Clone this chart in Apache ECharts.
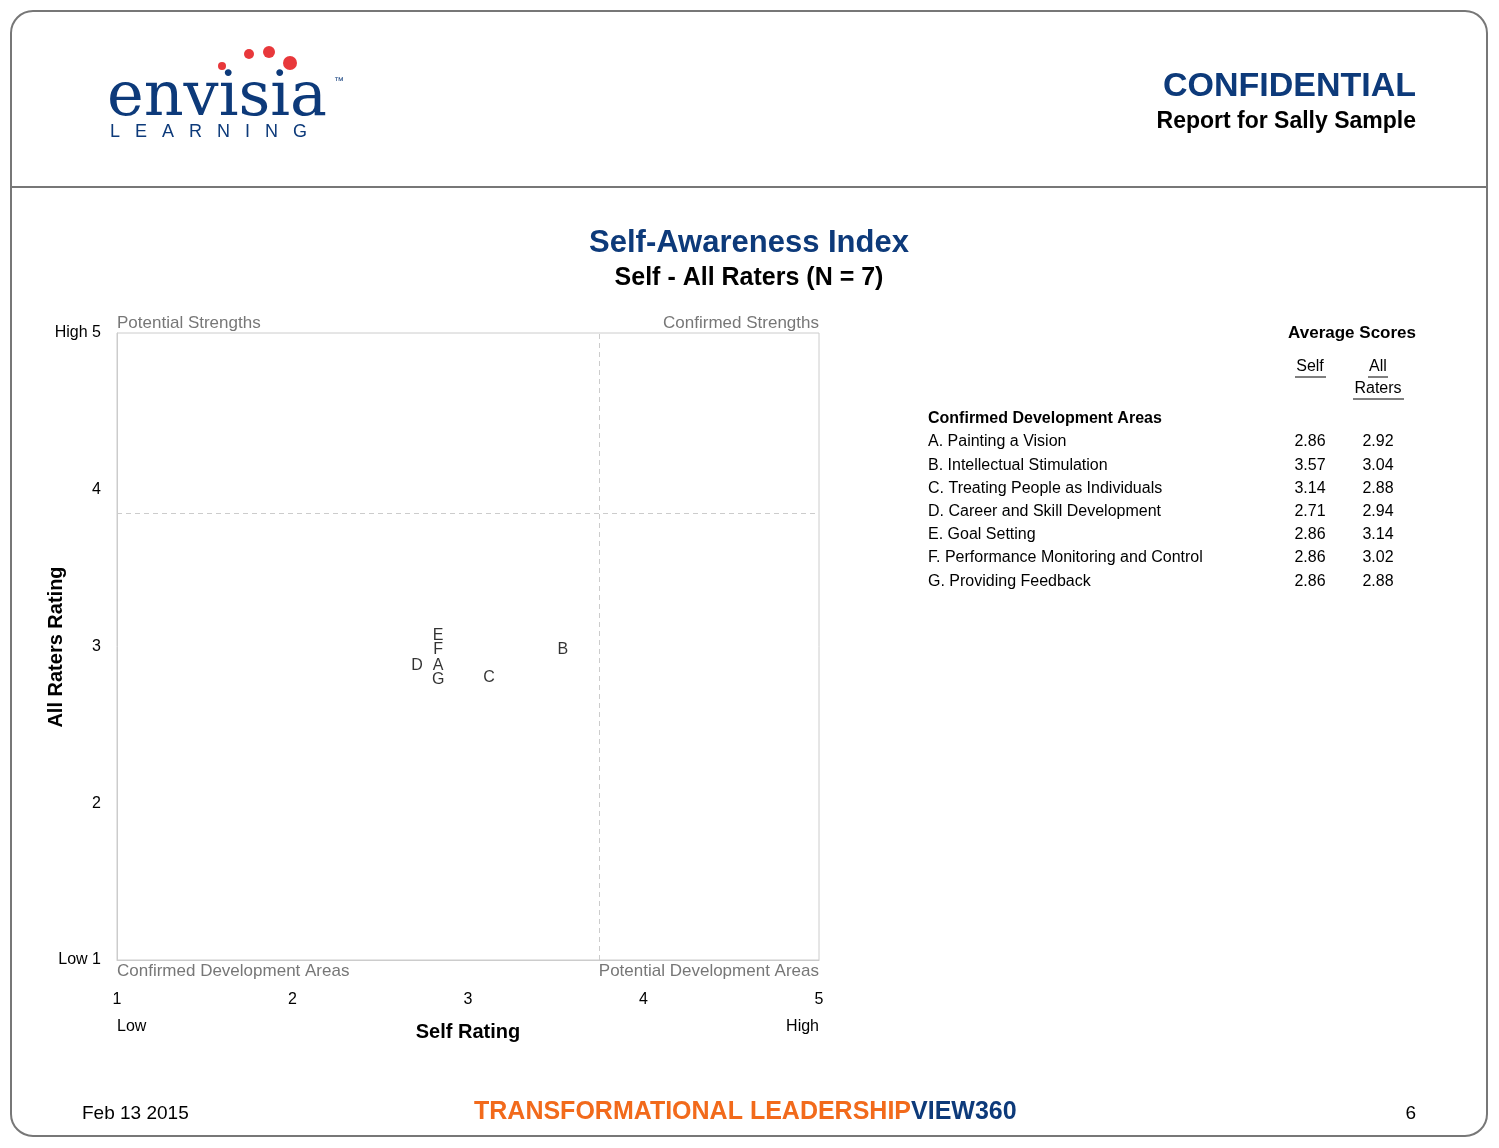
<html>
<head>
<meta charset="utf-8">
<title>Self-Awareness Index</title>
<script src="https://cdn.jsdelivr.net/npm/echarts@6/dist/echarts.min.js"></script>
<style>
  body { margin:0; background:#fff; }
  #main { width:1499px; height:1148px; }
</style>
</head>
<body>
<div id="main"></div>
<script>
var labels = ['A', 'B', 'C', 'D', 'E', 'F', 'G'];
var names = ['A. Painting a Vision', 'B. Intellectual Stimulation', 'C. Treating People as Individuals',
  'D. Career and Skill Development', 'E. Goal Setting', 'F. Performance Monitoring and Control', 'G. Providing Feedback'];
var selfScores = [2.86, 3.57, 3.14, 2.71, 2.86, 2.86, 2.86];
var raterScores = [2.92, 3.04, 2.88, 2.94, 3.14, 3.02, 2.88];
// small nudges so stacked letters stay readable, as in the report
var plotSelf = [2.83, 3.54, 3.12, 2.71, 2.83, 2.83, 2.83];
var plotRaters = [2.88, 2.98, 2.80, 2.88, 3.07, 2.98, 2.79];
var xTicks = { 1: '1', 2: '2', 3: '3', 4: '4', 5: '5' };
var yTicks = { 1: 'Low 1', 2: '2', 3: '3', 4: '4', 5: 'High 5' };
var selfCut = 3.75, raterCut = 3.85;

var myChart = echarts.init(document.getElementById('main'));
var font = 'Arial, "Liberation Sans", sans-serif';

var pts = [];
for (var i = 0; i < labels.length; i++) {
  pts.push({ value: [plotSelf[i], plotRaters[i]], name: labels[i] });
}

function txt(x, y, s, fill, f, align) {
  return { type: 'text', x: x, y: y, style: { text: s, fill: fill, font: f, align: align || 'left', verticalAlign: 'top' } };
}

var g = [];
// frame
g.push({ type: 'rect', shape: { x: 11, y: 11, width: 1476, height: 1125, r: 22 },
  style: { fill: 'none', stroke: '#777', lineWidth: 2 } });
g.push({ type: 'line', shape: { x1: 11, y1: 187, x2: 1487, y2: 187 }, style: { stroke: '#777', lineWidth: 2 } });
// logo
g.push(txt(107, 68, 'envisia', '#0d3a7a', '62px "DejaVu Serif", serif'));
g.push(txt(334, 76, '™', '#0d3a7a', '10px sans-serif'));
g.push(txt(110, 123, 'L   E   A   R   N   I   N   G', '#0d3a7a', '18px ' + font));
[[222, 66, 4], [249, 54, 5], [269, 52, 6], [290, 63, 7]].forEach(function (d) {
  g.push({ type: 'circle', shape: { cx: d[0], cy: d[1], r: d[2] }, style: { fill: '#e8383b' } });
});
// header right
g.push(txt(1416, 70, 'CONFIDENTIAL', '#0d3a7a', 'bold 34px ' + font, 'right'));
g.push(txt(1416, 110, 'Report for Sally Sample', '#000', 'bold 23px ' + font, 'right'));
// titles
g.push(txt(749, 228, 'Self-Awareness Index', '#0d3a7a', 'bold 31px ' + font, 'center'));
g.push(txt(749, 266, 'Self - All Raters (N = 7)', '#000', 'bold 25px ' + font, 'center'));
// y axis title
g.push({ type: 'text', x: 56, y: 647, rotation: Math.PI / 2,
  style: { text: 'All Raters Rating', fill: '#000', font: 'bold 20px ' + font, align: 'center', verticalAlign: 'middle' } });
// quadrant labels
var qf = '17px ' + font;
g.push(txt(117, 315, 'Potential Strengths', '#777', qf));
g.push(txt(819, 315, 'Confirmed Strengths', '#777', qf, 'right'));
g.push(txt(117, 963, 'Confirmed Development Areas', '#777', qf));
g.push(txt(819, 963, 'Potential Development Areas', '#777', qf, 'right'));
g.push(txt(117, 1019, 'Low', '#000', '16px ' + font));
g.push(txt(819, 1019, 'High', '#000', '16px ' + font, 'right'));
// table
var tf = '16px ' + font;
g.push(txt(1416, 325, 'Average Scores', '#000', 'bold 17px ' + font, 'right'));
g.push(txt(1310, 359, 'Self', '#000', tf, 'center'));
g.push({ type: 'line', shape: { x1: 1295, y1: 377, x2: 1326, y2: 377 }, style: { stroke: '#000' } });
g.push(txt(1378, 359, 'All', '#000', tf, 'center'));
g.push({ type: 'line', shape: { x1: 1368, y1: 377, x2: 1388, y2: 377 }, style: { stroke: '#000' } });
g.push(txt(1378, 381, 'Raters', '#000', tf, 'center'));
g.push({ type: 'line', shape: { x1: 1353, y1: 399, x2: 1404, y2: 399 }, style: { stroke: '#000' } });
g.push(txt(928, 411, 'Confirmed Development Areas', '#000', 'bold 16px ' + font));
for (var k = 0; k < names.length; k++) {
  var yy = 434 + k * 23.2;
  g.push(txt(928, yy, names[k], '#000', tf));
  g.push(txt(1310, yy, selfScores[k].toFixed(2), '#000', tf, 'center'));
  g.push(txt(1378, yy, raterScores[k].toFixed(2), '#000', tf, 'center'));
}
// footer
g.push(txt(82, 1104, 'Feb 13 2015', '#000', '19px ' + font));
g.push(txt(1416, 1104, '6', '#000', '19px ' + font, 'right'));
g.push({ type: 'text', x: 474, y: 1100, style: {
  rich: { o: { fill: '#f26a1b', font: 'bold 25px ' + font }, b: { fill: '#0d3a7a', font: 'bold 25px ' + font } },
  text: '{o|TRANSFORMATIONAL LEADERSHIP}{b|VIEW360}' } });

var option = {
  backgroundColor: '#fff',
  animation: false,
  grid: { left: 117, top: 333, width: 702, height: 627 },
  xAxis: {
    type: 'value', min: 1, max: 5, interval: 1,
    name: 'Self Rating', nameLocation: 'middle', nameGap: 62,
    nameTextStyle: { color: '#000', fontSize: 20, fontWeight: 'bold', fontFamily: font },
    axisLine: { show: true, onZero: false, lineStyle: { color: '#ccc' } },
    axisTick: { show: false },
    splitLine: { show: false },
    axisLabel: { margin: 32, color: '#000', fontSize: 16, fontFamily: font, formatter: function (v) { return xTicks[v] || ''; } }
  },
  yAxis: {
    type: 'value', min: 1, max: 5, interval: 1,
    axisLine: { show: true, onZero: false, lineStyle: { color: '#ccc' } },
    axisTick: { show: false },
    splitLine: { show: false },
    axisLabel: { margin: 16, color: '#000', fontSize: 16, fontFamily: font, formatter: function (v) { return yTicks[v] || ''; } }
  },
  series: [{
    type: 'scatter',
    symbolSize: 1,
    itemStyle: { color: 'rgba(0,0,0,0)' },
    label: { show: true, position: 'inside', formatter: '{b}', color: '#000', fontSize: 16, fontFamily: font },
    data: pts,
    markLine: {
      silent: true, symbol: 'none', label: { show: false },
      lineStyle: { color: '#ccc', type: [5, 4], width: 1 },
      data: [{ xAxis: selfCut }, { yAxis: raterCut }]
    }
  }, {
    type: 'line', data: [], markArea: {
      silent: true, itemStyle: { color: 'none', borderColor: '#ccc', borderWidth: 1 },
      data: [[{ coord: [1, 1] }, { coord: [5, 5] }]]
    }
  }],
  graphic: g
};
myChart.setOption(option);
</script>
</body>
</html>
